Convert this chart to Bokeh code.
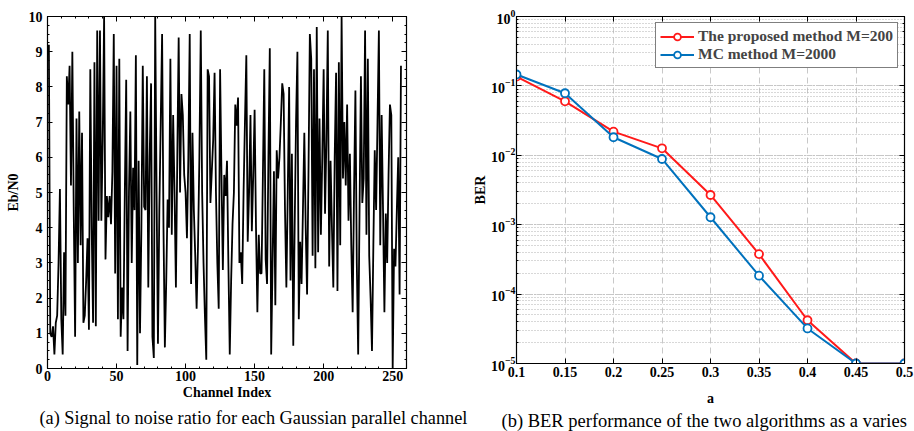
from bokeh.plotting import figure
from bokeh.layouts import row
from bokeh.models import (SingleIntervalTicker, FixedTicker, LinearAxis, LogAxis, Title,
                          CustomJSTickFormatter, Range1d, LogTicker)
from bokeh.embed import file_html
from bokeh.resources import INLINE

# ---------------- data ----------------
channel_snr = [
    9.2, 1.0, 0.9, 1.2, 0.4, 1.3, 1.5, 3.0, 5.1, 1.4,
    0.4, 3.3, 1.5, 8.3, 7.5, 8.6, 5.2, 9.0, 4.5, 0.9,
    7.1, 3.0, 7.3, 3.5, 6.7, 1.3, 1.5, 2.5, 3.7, 1.1,
    8.5, 4.0, 1.3, 8.7, 1.2, 9.6, 4.2, 9.6, 4.2, 6.5,
    10.0, 3.1, 4.9, 4.3, 4.9, 4.1, 5.6, 9.5, 2.7, 8.6,
    1.4, 8.8, 0.9, 2.3, 1.4, 5.0, 8.2, 0.5, 5.0, 7.3,
    3.0, 5.7, 4.5, 8.9, 0.1, 5.9, 1.0, 4.0, 8.6, 4.6,
    4.5, 8.3, 2.3, 6.0, 8.1, 0.9, 0.3, 10.0, 5.0, 0.7,
    4.5, 7.0, 9.5, 4.0, 0.6, 2.5, 4.8, 4.0, 8.8, 3.8,
    7.2, 5.0, 2.3, 6.0, 9.4, 5.0, 7.8, 7.2, 5.5, 5.0,
    3.7, 6.0, 9.5, 2.4, 6.7, 4.5, 3.2, 1.7, 3.5, 6.0,
    9.6, 5.0, 3.0, 1.5, 0.25, 8.5, 8.3, 4.7, 5.6, 6.5,
    8.4, 5.0, 3.0, 1.7, 8.5, 5.5, 2.8, 5.5, 4.9, 5.9,
    3.0, 0.4, 2.5, 4.1, 5.0, 7.5, 6.9, 7.7, 3.0, 3.3,
    2.4, 5.0, 7.0, 8.9, 3.6, 5.0, 7.2, 3.9, 5.5, 7.35,
    4.0, 1.6, 3.8, 2.7, 2.7, 5.5, 8.5, 3.1, 2.4, 6.0,
    9.1, 0.4, 3.0, 5.6, 1.8, 6.2, 5.4, 6.0, 7.0, 8.1,
    7.8, 4.5, 2.3, 5.0, 8.0, 2.5, 6.1, 0.65, 4.0, 7.0,
    9.0, 1.4, 3.6, 2.4, 4.5, 6.7, 4.0, 2.1, 5.5, 9.5,
    8.8, 3.2, 8.5, 2.85, 9.7, 3.3, 7.1, 3.8, 6.0, 8.5,
    4.4, 6.5, 9.6, 2.9, 5.9, 4.0, 2.3, 6.0, 8.4, 2.2,
    8.7, 3.5, 10.0, 5.4, 7.0, 5.2, 7.5, 4.2, 6.1, 3.5,
    1.6, 5.0, 7.9, 3.0, 0.4, 4.5, 8.3, 4.7, 5.4, 9.6,
    3.8, 8.8, 3.2, 2.0, 0.5, 3.5, 6.2, 4.5, 7.0, 9.6,
    3.5, 7.2, 4.5, 1.6, 4.4, 3.0, 5.5, 7.5, 7.2, 0.0,
    3.4, 2.9, 4.5, 6.0, 2.1, 8.6,
]
channel_index = list(range(1, len(channel_snr) + 1))

a_vals = [0.1, 0.15, 0.2, 0.25, 0.3, 0.35, 0.4, 0.45, 0.5]
ber_proposed = [0.136, 0.060, 0.0219, 0.0126, 0.00268, 3.77e-4, 4.2e-5, 1e-5, 1e-5]
ber_mc = [0.146, 0.0784, 0.0182, 0.00885, 0.00128, 1.84e-4, 3.2e-5, 1e-5, 1e-5]

FONT = "Liberation Serif"


def style_axis(ax, size="14px"):
    ax.major_label_text_font = FONT
    ax.major_label_text_font_style = "bold"
    ax.major_label_text_font_size = size
    ax.major_label_text_color = "black"
    ax.axis_label_text_font = FONT
    ax.axis_label_text_font_style = "bold"
    ax.axis_label_text_font_size = "14px"
    ax.axis_label_text_color = "black"
    ax.major_tick_in = 5
    ax.major_tick_out = 0
    ax.minor_tick_in = 2
    ax.minor_tick_out = 0
    ax.axis_line_color = "black"
    ax.major_tick_line_color = "black"
    ax.minor_tick_line_color = "black"


def blank_axis(ax):
    ax.formatter = CustomJSTickFormatter(code="return '';")
    ax.major_label_standoff = 0
    ax.major_tick_in = 5
    ax.major_tick_out = 0
    ax.minor_tick_in = 2
    ax.minor_tick_out = 0
    ax.axis_line_color = "black"


# ---------------- left figure ----------------
p1 = figure(output_backend="svg", toolbar_location=None,
            frame_width=359, frame_height=352,
            min_border_left=47, min_border_right=64, min_border_top=10, min_border_bottom=69,
            x_range=Range1d(0, 260), y_range=Range1d(0, 10))
p1.line(channel_index, channel_snr, line_color="black", line_width=1.8)
xt1 = SingleIntervalTicker(interval=50, num_minor_ticks=5)
yt1 = SingleIntervalTicker(interval=1, num_minor_ticks=4)
p1.xaxis.ticker = xt1
p1.yaxis.ticker = yt1
p1.xaxis.axis_label = "Channel Index"
p1.yaxis.axis_label = "Eb/N0"
style_axis(p1.xaxis[0])
style_axis(p1.yaxis[0])
p1.xaxis.major_label_standoff = 2
p1.xaxis.axis_label_standoff = 1
p1.yaxis.major_label_standoff = 5
p1.xgrid.grid_line_color = None
p1.ygrid.grid_line_color = None
p1.outline_line_color = "black"
p1.outline_line_width = 1.2
top1 = LinearAxis(ticker=xt1)
right1 = LinearAxis(ticker=yt1)
blank_axis(top1)
blank_axis(right1)
p1.add_layout(top1, "above")
p1.add_layout(right1, "right")
p1.add_layout(Title(text="(a) Signal to noise ratio for each Gaussian parallel channel",
                    align="left", offset=-8, text_font=FONT, text_font_style="normal",
                    text_font_size="18.3px", text_color="black", standoff=7), "below")

# ---------------- right figure ----------------
p2 = figure(output_backend="svg", toolbar_location=None,
            frame_width=388, frame_height=347,
            min_border_left=45, min_border_right=11, min_border_top=16, min_border_bottom=68,
            x_range=Range1d(0.1, 0.5), y_range=Range1d(1e-5, 1), y_axis_type="log")
p2.line(a_vals, ber_proposed, line_color="#ff1a1a", line_width=2, legend_label="The proposed method M=200")
p2.scatter(a_vals, ber_proposed, marker="circle", size=8, line_color="#ff1a1a", line_width=1.8,
           fill_color="white", legend_label="The proposed method M=200")
p2.line(a_vals, ber_mc, line_color="#0072BD", line_width=2, legend_label="MC method M=2000")
p2.scatter(a_vals, ber_mc, marker="circle", size=8, line_color="#0072BD", line_width=1.8,
           fill_color="white", legend_label="MC method M=2000")

xt2 = FixedTicker(ticks=a_vals)
p2.xaxis.ticker = xt2
p2.xaxis.formatter = CustomJSTickFormatter(code="return tick.toFixed(2).replace(/0$/, '');")
p2.xaxis.axis_label = "a"
p2.yaxis.axis_label = "BER"
style_axis(p2.xaxis[0])
style_axis(p2.yaxis[0])
p2.xaxis.major_label_standoff = 3
p2.xaxis.axis_label_standoff = 11
p2.yaxis.major_label_standoff = 1
p2.yaxis.axis_label_standoff = 0
p2.xaxis.minor_tick_in = 0

p2.xgrid.grid_line_color = "#c8c8c8"
p2.xgrid.grid_line_dash = "6 4"
p2.xgrid.grid_line_width = 1
p2.ygrid.grid_line_color = "#c8c8c8"
p2.ygrid.grid_line_dash = "6 4"
p2.ygrid.minor_grid_line_color = "#b0b0b0"
p2.ygrid.minor_grid_line_dash = "1 2"
p2.ygrid.minor_grid_line_width = 1
p2.outline_line_color = "black"
p2.outline_line_width = 1.2

top2 = LinearAxis(ticker=xt2)
right2 = LogAxis(ticker=LogTicker())
blank_axis(top2)
blank_axis(right2)
top2.minor_tick_in = 0
p2.add_layout(top2, "above")
p2.add_layout(right2, "right")

lg = p2.legend[0]
lg.location = "top_right"
lg.margin = 6
lg.padding = 4
lg.spacing = 0
lg.label_text_font = FONT
lg.label_text_font_style = "bold"
lg.label_text_font_size = "15.5px"
lg.label_height = 17
lg.glyph_height = 17
lg.glyph_width = 34
lg.label_standoff = 4
lg.border_line_color = "black"
lg.border_line_width = 1
lg.background_fill_alpha = 1

p2.add_layout(Title(text="(b) BER performance of the two algorithms as a varies",
                    align="left", offset=-15, text_font=FONT, text_font_style="normal",
                    text_font_size="18.5px", text_color="black", standoff=1), "below")

layout = row(p1, p2, spacing=0)
open("out.html", "w").write(file_html(layout, INLINE))
